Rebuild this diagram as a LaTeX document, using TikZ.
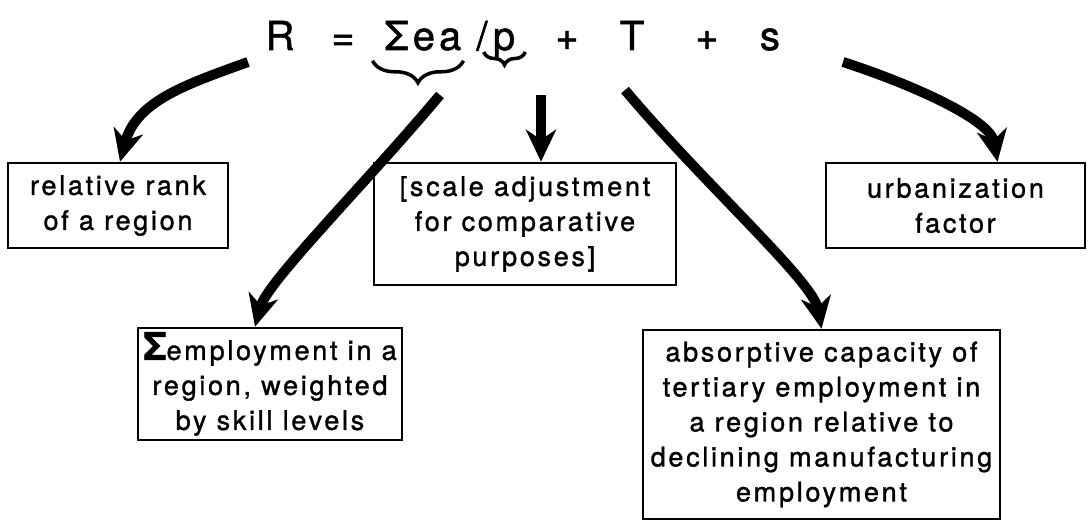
\documentclass[tikz,border=0pt]{standalone}
\usepackage{fontspec}
\setmainfont{TeX Gyre Heros}[LetterSpace=10, FakeBold=1.3]
\usetikzlibrary{arrows.meta,decorations.pathreplacing}

\begin{document}
\begin{tikzpicture}[x=1pt, y=1pt, >={Stealth[length=32pt,width=30pt,inset=10pt]}]
    \tikzstyle{term} = [inner sep=0pt, anchor=base, font=\fontsize{40}{40}\selectfont];
    \tikzstyle{box} = [draw, line width=2.5pt, align=center, inner sep=0pt, font=\fontsize{27}{35}\selectfont];
    \tikzstyle{fat} = [line width=10pt, ->];
    \tikzstyle{brc} = [decorate, line width=3.5pt];
    \useasboundingbox (0,0) rectangle (1088,521);
    % the formula
    \node [term] (R) at (280,471) {R};
    \node [term] (eq) at (343,471) {=};
    \node [term] (sum) at (423,471) {Σea};
    \node [term] (slash) at (482,471) {/};
    \node [term] (p) at (504,471) {p};
    \node [term] (plusa) at (567,471) {+};
    \node [term] (T) at (632,471) {T};
    \node [term] (plusb) at (707,471) {+};
    \node [term] (s) at (770,471) {s};
    \draw [brc, decoration={brace, mirror, amplitude=22pt}]
        ([xshift=-12pt,yshift=-10pt]sum.south west) -- ([xshift=2pt,yshift=-10pt]sum.south east);
    \draw [brc, decoration={brace, mirror, amplitude=13pt}]
        ([xshift=-9pt,yshift=-2pt]p.base west) -- ([xshift=10pt,yshift=-2pt]p.base east);
    % the boxes
    \node [box, minimum width=220pt, minimum height=85pt] (rank) at (118,315.5) {relative rank\\of a region};
    \node [box, minimum width=302pt, minimum height=122pt] (scale) at (525,297) {[scale adjustment\\for comparative\\purposes]};
    \node [box, minimum width=259pt, minimum height=85pt] (urb) at (955.5,315.5) {urbanization\\factor};
    \node [box, minimum width=264pt, minimum height=112pt] (skill) at (270,137)
        {{\fontsize{38}{35}\bfseries Σ}employment in a\\region, weighted\\by skill levels};
    \node [box, minimum width=357pt, minimum height=189pt] (tert) at (821.5,96.5)
        {absorptive capacity of\\tertiary employment in\\a region relative to\\declining manufacturing\\employment};
    % tails of the arrows
    \coordinate (rtail) at (248,459);
    \coordinate (sumtail) at (440,426);
    \coordinate (ptail) at (541,426);
    \coordinate (Ttail) at (625,431);
    \coordinate (stail) at (843,459);
    \draw [fat] (rtail) to[out=200,in=75] ([xshift=2pt]rank.north);
    \draw [fat] (sumtail) to[out=230,in=75,in looseness=0.4] ([xshift=-15pt]skill.north);
    \draw [fat] (ptail) -- ([xshift=16pt]scale.north);
    \draw [fat] (Ttail) to[out=-50,in=100,in looseness=0.4] (tert.north);
    \draw [fat] (stail) to[out=-18,in=100,in looseness=0.6] ([xshift=42pt]urb.north);
\end{tikzpicture}
\end{document}
